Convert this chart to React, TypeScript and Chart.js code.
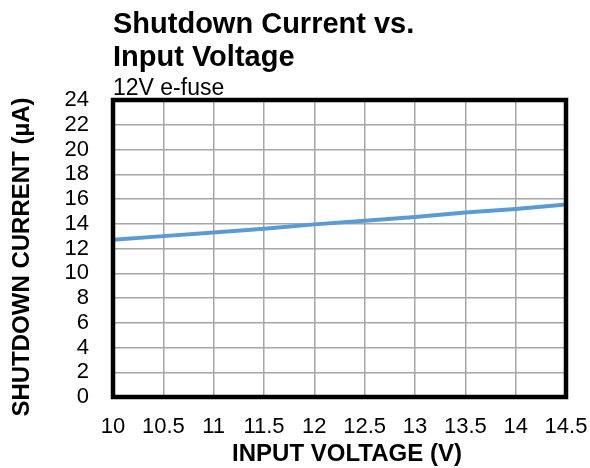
import React, { useEffect, useRef } from "react";
import { Chart, registerables } from "chart.js";

Chart.register(...registerables);

const voltages = [10, 10.5, 11, 11.5, 12, 12.5, 13, 13.5, 14, 14.5];
const currents = [12.7, 13.0, 13.3, 13.6, 13.95, 14.25, 14.55, 14.9, 15.2, 15.55];
const titleLines = ["Shutdown Current vs.", "Input Voltage"];
const subtitle = "12V e-fuse";
const xTitle = "INPUT VOLTAGE (V)";
const yTitle = "SHUTDOWN CURRENT (µA)";

const FONT = "'Liberation Sans', Arial, sans-serif";

export default function App() {
  const ref = useRef<HTMLCanvasElement | null>(null);
  useEffect(() => {
    if (!ref.current) return;
    const framePlugin = {
      id: "frame",
      afterDatasetsDraw(chart: any) {
        const { ctx, chartArea } = chart;
        ctx.save();
        ctx.strokeStyle = "#000";
        ctx.lineWidth = 4.5;
        ctx.strokeRect(chartArea.left, chartArea.top, chartArea.right - chartArea.left, chartArea.bottom - chartArea.top);
        ctx.restore();
      },
      afterDraw(chart: any) {
        const { ctx } = chart;
        ctx.save();
        ctx.fillStyle = "#000";
        ctx.textAlign = "left";
        ctx.textBaseline = "alphabetic";
        ctx.font = `bold 29px ${FONT}`;
        ctx.fillText(titleLines[0], 113, 33);
        ctx.fillText(titleLines[1], 113, 66);
        ctx.font = `23px ${FONT}`;
        ctx.fillText(subtitle, 113, 95);
        // axis titles
        ctx.font = `bold 24px ${FONT}`;
        ctx.textAlign = "center";
        ctx.textBaseline = "middle";
        ctx.fillText(xTitle, 347, 454);
        ctx.translate(22, 257);
        ctx.rotate(-Math.PI / 2);
        ctx.fillText(yTitle, 0, 0);
        ctx.restore();
      },
    };
    const chart = new Chart(ref.current, {
      type: "line",
      data: {
        datasets: [
          {
            data: voltages.map((v, i) => ({ x: v, y: currents[i] })),
            borderColor: "#5B9BD5",
            borderWidth: 4,
            pointRadius: 0,
            tension: 0,
          },
        ],
      },
      options: {
        animation: false,
        responsive: false,
        maintainAspectRatio: false,
        layout: { padding: { left: 0, top: 100, right: 24, bottom: 0 } },
        plugins: { legend: { display: false }, tooltip: { enabled: false } },
        scales: {
          x: {
            type: "linear",
            min: 10,
            max: 14.5,
            afterFit: (s: any) => {
              s.height = 71;
              s.paddingLeft = 0;
              s.paddingRight = 0;
            },
            ticks: {
              stepSize: 0.5,
              color: "#000",
              padding: 17,
              font: { family: FONT, size: 22 },
              maxRotation: 0,
              autoSkip: false,
              callback: (v: any) => String(v),
            },
            grid: { color: "#a6a6a6", lineWidth: 1.5, drawTicks: false },
            border: { display: false },
          },
          y: {
            min: 0,
            max: 24,
            afterFit: (s: any) => {
              s.width = 113;
              s.paddingTop = 0;
              s.paddingBottom = 0;
            },
            ticks: {
              stepSize: 2,
              color: "#000",
              padding: 24,
              autoSkip: false,
              font: { family: FONT, size: 22 },
            },
            grid: { color: "#a6a6a6", lineWidth: 1.5, drawTicks: false },
            border: { display: false },
          },
        },
      },
      plugins: [framePlugin],
    } as any);
    return () => chart.destroy();
  }, []);
  return (
    <div style={{ position: "fixed", left: 0, top: 0, width: 590, height: 468, background: "#fff" }}>
      <canvas ref={ref} width={590} height={468} style={{ width: 590, height: 468 }} />
    </div>
  );
}
